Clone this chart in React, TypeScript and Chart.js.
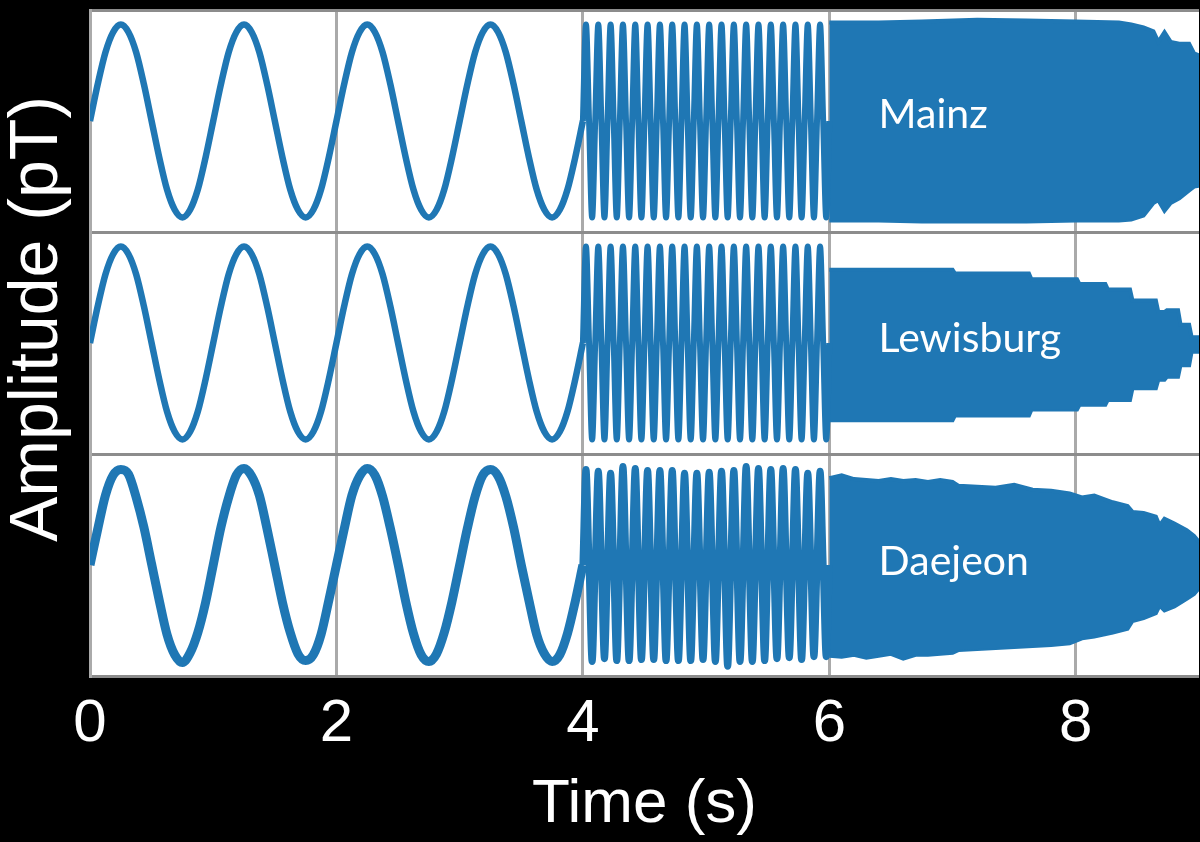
import { useEffect, useRef } from 'react';
import { Chart, registerables } from 'chart.js';

Chart.register(...registerables);

const BLUE = '#1f77b4';
const SANS = "'Liberation Sans', Arial, sans-serif";

// x axis
const xTicks = [0, 2, 4, 6, 8];
const xMin = 0;
const xMax = 9;
const xTitle = 'Time (s)';
const yTitle = 'Amplitude (pT)';
const stationNames = ['Mainz', 'Lewisburg', 'Daejeon'];
const yMin = -1.15;
const yMax = 1.15;

// 0–4 s: slow 1 Hz oscillation, values read every 1/16 s
const slowStep = 0.0625;
const mainzSlow = [
  0, 0.38, 0.71, 0.92, 1, 0.92, 0.71, 0.38, 0, -0.38, -0.71, -0.92, -1, -0.92, -0.71, -0.38,
  0, 0.38, 0.71, 0.92, 1, 0.92, 0.71, 0.38, 0, -0.38, -0.71, -0.92, -1, -0.92, -0.71, -0.38,
  0, 0.38, 0.71, 0.92, 1, 0.92, 0.71, 0.38, 0, -0.38, -0.71, -0.92, -1, -0.92, -0.71, -0.38,
  0, 0.38, 0.71, 0.92, 1, 0.92, 0.71, 0.38, 0, -0.38, -0.71, -0.92, -1, -0.92, -0.71, -0.38,
  0,
];
const lewisburgSlow = [
  0, 0.38, 0.71, 0.92, 1, 0.92, 0.71, 0.38, 0, -0.38, -0.71, -0.92, -1, -0.92, -0.71, -0.38,
  0, 0.38, 0.71, 0.92, 1, 0.92, 0.71, 0.38, 0, -0.38, -0.71, -0.92, -1, -0.92, -0.71, -0.38,
  0, 0.38, 0.71, 0.92, 1, 0.92, 0.71, 0.38, 0, -0.38, -0.71, -0.92, -1, -0.92, -0.71, -0.38,
  0, 0.38, 0.71, 0.92, 1, 0.92, 0.71, 0.38, 0, -0.38, -0.71, -0.92, -1, -0.92, -0.71, -0.38,
  0,
];
const daejeonSlow = [
  0, 0.37, 0.72, 0.93, 0.99, 0.94, 0.70, 0.39, 0.01, -0.37, -0.72, -0.93, -1.01, -0.91, -0.70, -0.39,
  0, 0.39, 0.70, 0.93, 1.0, 0.92, 0.72, 0.37, -0.01, -0.39, -0.70, -0.92, -0.99, -0.93, -0.72, -0.37,
  0, 0.37, 0.72, 0.92, 1.0, 0.93, 0.71, 0.38, 0.01, -0.38, -0.71, -0.93, -1.0, -0.92, -0.70, -0.38,
  0, 0.38, 0.71, 0.93, 0.99, 0.92, 0.71, 0.39, 0, -0.37, -0.72, -0.92, -1.0, -0.93, -0.71, -0.38,
  0,
];

// 4–6 s: 10 Hz oscillation; one crest and one trough per 0.1 s
const fastStart = 4;
const fastQuarter = 0.025;
const mainzFastPeaks = [1, 1, 1, 1, 1, 1, 1, 1, 1, 1, 1, 1, 1, 1, 1, 1, 1, 1, 1, 1];
const mainzFastTroughs = [-1, -1, -1, -1, -1, -1, -1, -1, -1, -1, -1, -1, -1, -1, -1, -1, -1, -1, -1, -1];
const lewisburgFastPeaks = [1, 1, 1, 1, 1, 1, 1, 1, 1, 1, 1, 1, 1, 1, 1, 1, 1, 1, 1, 1];
const lewisburgFastTroughs = [-1, -1, -1, -1, -1, -1, -1, -1, -1, -1, -1, -1, -1, -1, -1, -1, -1, -1, -1, -1];
const daejeonFastPeaks = [0.99, 0.97, 0.95, 1.02, 1.0, 0.98, 0.98, 0.98, 0.95, 0.95, 0.96, 0.97, 0.98, 1.02, 1.0, 0.99, 1.0, 0.99, 0.95, 0.97];
const daejeonFastTroughs = [-1.0, -0.97, -0.99, -0.99, -0.98, -0.98, -0.99, -0.99, -0.99, -0.98, -1.0, -1.05, -1.0, -1.0, -0.99, -0.97, -0.96, -0.98, -0.95, -0.95];

// 6–9 s: very fast oscillation, drawn as its envelope (upper / lower)
const mainzEnvT = [6.0, 6.4, 6.75, 7.2, 7.6, 8.0, 8.35, 8.45, 8.55, 8.63, 8.67, 8.72, 8.77, 8.84, 8.92, 8.96, 9.0];
const mainzEnvUpper = [1.02, 1.02, 1.03, 1.05, 1.04, 1.03, 1.02, 1.0, 0.97, 0.93, 0.82, 0.92, 0.82, 0.8, 0.8, 0.7, 0.68];
const mainzEnvLower = [-1.03, -1.03, -1.04, -1.04, -1.04, -1.03, -1.03, -1.02, -0.98, -0.85, -0.82, -0.93, -0.85, -0.8, -0.72, -0.68, -0.67];

const lewisburgEnvT = [6.0, 7.0, 7.02, 7.62, 7.64, 8.01, 8.03, 8.24, 8.26, 8.44, 8.46, 8.65, 8.67, 8.72, 8.74, 8.83, 8.85, 8.92, 8.94, 9.0];
const lewisburgEnvUpper = [0.76, 0.76, 0.72, 0.72, 0.66, 0.66, 0.61, 0.61, 0.555, 0.555, 0.44, 0.44, 0.32, 0.32, 0.34, 0.34, 0.19, 0.19, 0.06, 0.06];
const lewisburgEnvLower = [-0.8, -0.8, -0.75, -0.75, -0.69, -0.69, -0.64, -0.64, -0.59, -0.59, -0.47, -0.47, -0.38, -0.38, -0.35, -0.35, -0.23, -0.23, -0.09, -0.09];

const daejeonEnvT = [6.0, 6.1, 6.2, 6.3, 6.4, 6.5, 6.6, 6.7, 6.8, 6.9, 7.0, 7.05, 7.2, 7.35, 7.5, 7.65, 7.8, 7.95, 8.05, 8.15, 8.3, 8.42, 8.46, 8.55, 8.65, 8.68, 8.72, 8.8, 8.9, 8.96, 9.0];
const daejeonEnvUpper = [0.9, 0.93, 0.89, 0.88, 0.87, 0.89, 0.87, 0.88, 0.86, 0.88, 0.86, 0.82, 0.81, 0.8, 0.83, 0.78, 0.77, 0.74, 0.7, 0.72, 0.65, 0.61, 0.55, 0.54, 0.5, 0.41, 0.48, 0.43, 0.36, 0.3, 0.24];
const daejeonEnvLower = [-0.94, -0.95, -0.93, -0.96, -0.94, -0.92, -0.97, -0.93, -0.93, -0.92, -0.91, -0.88, -0.87, -0.86, -0.85, -0.84, -0.83, -0.81, -0.76, -0.74, -0.7, -0.66, -0.58, -0.55, -0.5, -0.42, -0.47, -0.43, -0.35, -0.3, -0.24];

// label placement (data coordinates)
const labelTime = 6.4;
const labelValue = [-0.07, -0.09, -0.1];

const slowPoints = (vals: number[]) => vals.map((v, i) => ({ x: i * slowStep, y: v }));
const fastPoints = (peaks: number[], troughs: number[]) => {
  const pts: { x: number; y: number }[] = [{ x: fastStart, y: 0 }];
  peaks.forEach((p, k) => {
    const base = fastStart + 4 * k * fastQuarter;
    pts.push({ x: base + fastQuarter, y: p });
    pts.push({ x: base + 2 * fastQuarter, y: 0 });
    pts.push({ x: base + 3 * fastQuarter, y: troughs[k] });
    pts.push({ x: base + 4 * fastQuarter, y: 0 });
  });
  return pts;
};
const envPoints = (t: number[], v: number[]) => t.map((x, i) => ({ x, y: v[i] }));

const panelData = [
  { slow: mainzSlow, peaks: mainzFastPeaks, troughs: mainzFastTroughs, envT: mainzEnvT, up: mainzEnvUpper, lo: mainzEnvLower, slowW: 6.5, fastW: 6 },
  { slow: lewisburgSlow, peaks: lewisburgFastPeaks, troughs: lewisburgFastTroughs, envT: lewisburgEnvT, up: lewisburgEnvUpper, lo: lewisburgEnvLower, slowW: 6.5, fastW: 6 },
  { slow: daejeonSlow, peaks: daejeonFastPeaks, troughs: daejeonFastTroughs, envT: daejeonEnvT, up: daejeonEnvUpper, lo: daejeonEnvLower, slowW: 9, fastW: 7 },
];

export default function App() {
  const ref = useRef<HTMLCanvasElement | null>(null);

  useEffect(() => {
    document.body.style.margin = '0';
    document.body.style.background = '#000';
    const canvas = ref.current;
    if (!canvas) return;

    const datasets: any[] = [];
    panelData.forEach((p, i) => {
      const yAxisID = 'y' + i;
      datasets.push({
        data: slowPoints(p.slow), yAxisID, borderColor: BLUE, borderWidth: p.slowW,
        pointRadius: 0, cubicInterpolationMode: 'monotone', fill: false,
      });
      datasets.push({
        data: fastPoints(p.peaks, p.troughs), yAxisID, borderColor: BLUE, borderWidth: p.fastW,
        pointRadius: 0, cubicInterpolationMode: 'monotone', fill: false,
      });
      datasets.push({
        data: envPoints(p.envT, p.up), yAxisID, borderColor: BLUE, backgroundColor: BLUE,
        borderWidth: 4, pointRadius: 0, tension: 0, fill: '+1',
      });
      datasets.push({
        data: envPoints(p.envT, p.lo), yAxisID, borderColor: BLUE, backgroundColor: BLUE,
        borderWidth: 4, pointRadius: 0, tension: 0, fill: false,
      });
    });

    const yAxis = (weight: number) => ({
      type: 'linear',
      position: 'left',
      stack: 'panels',
      stackWeight: 1,
      weight,
      min: yMin,
      max: yMax,
      afterBuildTicks: (s: any) => { s.ticks = [{ value: yMin }, { value: yMax }]; },
      afterFit: (s: any) => { s.width = 0; },
      ticks: { display: false },
      grid: { color: '#8c8c8c', lineWidth: 3, drawTicks: false },
      border: { display: true, color: '#aaaaaa', width: 3 },
    });

    const framePlugin = {
      id: 'frame',
      beforeDraw(chart: any) {
        const { ctx, chartArea: a } = chart;
        ctx.save();
        ctx.fillStyle = '#000';
        ctx.fillRect(0, 0, chart.width, chart.height);
        ctx.fillStyle = '#fff';
        ctx.fillRect(a.left, a.top, a.right - a.left, a.bottom - a.top);
        ctx.restore();
      },
      afterDraw(chart: any) {
        const { ctx, chartArea: a } = chart;
        ctx.save();
        ctx.fillStyle = '#fff';
        ctx.font = "41px Lato, 'Noto Sans', sans-serif";
        ctx.textAlign = 'left';
        ctx.textBaseline = 'alphabetic';
        stationNames.forEach((name, i) => {
          const x = chart.scales.x.getPixelForValue(labelTime);
          const y = chart.scales['y' + i].getPixelForValue(labelValue[i]);
          ctx.fillText(name, x, y);
        });
        ctx.font = `68px ${SANS}`;
        ctx.textAlign = 'center';
        ctx.textBaseline = 'middle';
        ctx.translate(38, a.top + (a.bottom - a.top) * 0.464);
        ctx.rotate(-Math.PI / 2);
        ctx.fillText(yTitle, 0, 0);
        ctx.restore();
      },
    };

    const chart = new Chart(canvas, {
      type: 'line',
      data: { datasets },
      options: {
        animation: false,
        responsive: false,
        devicePixelRatio: 1,
        layout: { padding: { left: 90, top: 10, right: 1, bottom: 0 } },
        plugins: { legend: { display: false }, tooltip: { enabled: false } },
        scales: {
          x: {
            type: 'linear',
            min: xMin,
            max: xMax,
            z: 1,
            afterBuildTicks: (s: any) => { s.ticks = xTicks.map((v) => ({ value: v })); },
            afterFit: (s: any) => { s.height = 166; },
            ticks: { color: '#fff', font: { size: 60, family: SANS }, padding: 12, maxRotation: 0, autoSkip: false },
            grid: { color: '#aaaaaa', lineWidth: 3, drawTicks: false },
            border: { display: false },
            title: { display: true, text: xTitle, color: '#fff', font: { size: 62, family: SANS }, padding: { top: 0, bottom: 0 } },
          },
          y0: yAxis(3),
          y1: yAxis(2),
          y2: yAxis(1),
        } as any,
      },
      plugins: [framePlugin],
    } as any);

    return () => chart.destroy();
  }, []);

  return (
    <div style={{ width: 1200, height: 842, background: '#000' }}>
      <canvas ref={ref} width={1200} height={842} style={{ display: 'block', width: 1200, height: 842 }} />
    </div>
  );
}
